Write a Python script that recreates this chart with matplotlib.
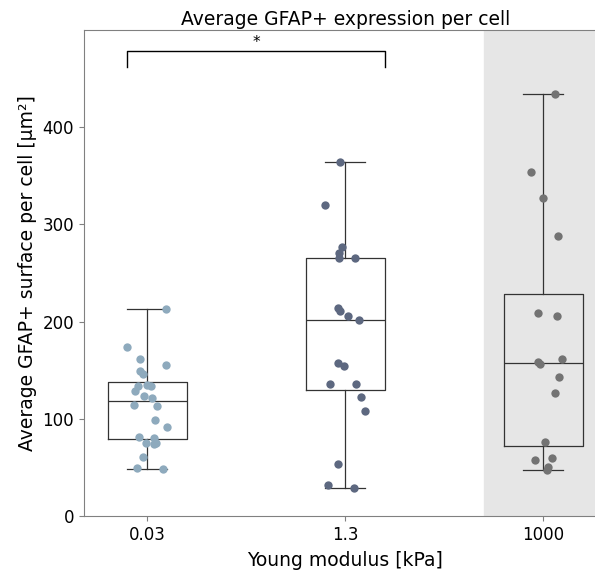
import matplotlib.pyplot as plt

categories = ['0.03', '1.3', '1000']

soft = [212.9, 173.4, 161.1, 155.3, 149.4, 145.7, 134.7, 134.0, 133.7, 128.5, 123.7, 121.7,
        114.1, 113.4, 98.7, 91.8, 81.5, 80.5, 74.7, 74.0, 75.4, 60.3, 49.7, 48.3]
medium = [364.3, 320.5, 276.3, 270.8, 265.6, 265.6, 214.2, 211.1, 206.0, 201.2, 157.0, 154.2,
          135.7, 135.7, 122.7, 108.0, 53.2, 31.9, 29.1]
stiff = [434.3, 354.0, 326.7, 288.2, 208.4, 205.6, 158.7, 156.0, 161.8, 142.9, 126.1, 76.4,
         57.6, 60.0, 50.7, 47.0]

# horizontal jitter of the dots
jit_soft = [0.096, -0.1, -0.039, 0.096, -0.039, -0.019, 0.0, 0.019, -0.049, -0.062, -0.015, 0.024,
            -0.069, 0.049, 0.037, 0.1, -0.044, 0.035, -0.007, 0.032, 0.045, -0.022, -0.052, 0.079]
jit_medium = [-0.029, -0.1, -0.014, -0.034, -0.03, 0.049, -0.037, -0.027, 0.014, 0.067, -0.037,
              -0.007, -0.079, 0.054, 0.079, 0.1, -0.039, -0.086, 0.045]
jit_stiff = [0.061, -0.062, 0.0, 0.077, -0.029, 0.072, -0.027, -0.014, 0.097, 0.081, 0.061, 0.009,
             -0.04, 0.042, 0.024, 0.02]

groups = [soft, medium, stiff]
jitters = [jit_soft, jit_medium, jit_stiff]
colors = ['#8eaabd', '#5d6880', '#737373']

fig = plt.figure(figsize=(5.95, 5.73), dpi=100)
ax = fig.add_axes([0.141, 0.0995, 0.8785, 0.848])

ax.axvspan(1.7, 2.5, color='#e6e6e6', zorder=0)

ax.boxplot(groups, positions=range(3), widths=0.4, showfliers=False,
           boxprops=dict(color='#333333', linewidth=0.9),
           medianprops=dict(color='#333333', linewidth=0.9),
           whiskerprops=dict(color='#333333', linewidth=0.9),
           capprops=dict(color='#333333', linewidth=0.9), zorder=2)

for i, (vals, jit) in enumerate(zip(groups, jitters)):
    ax.scatter([i + j for j in jit], vals, s=36, color=colors[i], zorder=3, linewidths=0)

# significance bracket
ax.plot([-0.1, -0.1, 1.2, 1.2], [462.5, 478, 478, 462.5], color='black', linewidth=1)
ax.text(0.55, 480, '*', ha='center', va='bottom', fontsize=11)

ax.set_xlim(-0.32, 2.32)
ax.set_ylim(0, 500)
ax.set_xticks(range(3))
ax.set_xticklabels(categories)
ax.set_yticks([0, 100, 200, 300, 400])
ax.tick_params(labelsize=12, color='#808080')
for s in ax.spines.values():
    s.set_color('#808080')

ax.set_xlabel('Young modulus [kPa]', fontsize=13.5, labelpad=5)
ax.set_ylabel('Average GFAP+ surface per cell [µm²]', fontsize=13.5)
ax.set_title('Average GFAP+ expression per cell', fontsize=13.5, pad=4)

fig.savefig('out.png', dpi=100)
